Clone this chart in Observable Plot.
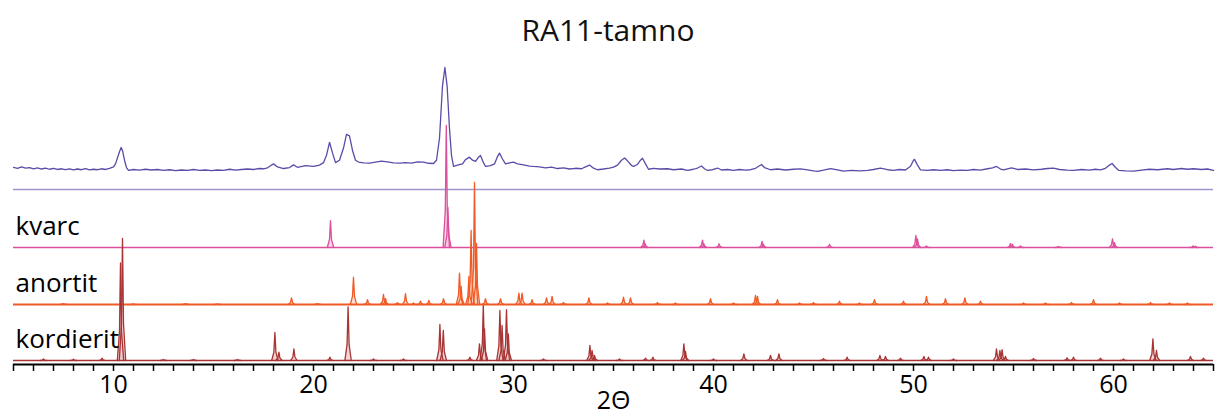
<!DOCTYPE html>
<html><head><meta charset="utf-8">
<script src="https://cdn.jsdelivr.net/npm/d3@7"></script>
<script src="https://cdn.jsdelivr.net/npm/@observablehq/plot@0.6"></script>
<style>
body{margin:0;background:#fff;font-family:"Open Sans",sans-serif;}
#title{height:60px;line-height:60px;text-align:center;font-size:30px;color:#111;}
</style></head><body>
<div id="title"></div>
<div id="chart"></div>
<script>
const chartTitle = "RA11-tamno";
const xLabel = "2Θ";
const xTickLabels = [10, 20, 30, 40, 50, 60];
const seriesNames = ["kvarc", "anortit", "kordierit"];

// measured sample pattern: [2θ, relative intensity %]
const sample = [
[5.0,18.2],[5.2,17.4],[5.4,18.6],[5.6,17.6],[5.8,18.0],[6.0,17.0],[6.2,17.8],[6.4,16.8],[6.6,17.6],[6.8,16.6],
[7.0,17.4],[7.2,16.4],[7.4,17.0],[7.6,16.2],[7.8,17.0],[8.0,16.0],[8.2,16.8],[8.4,16.2],[8.6,17.2],[8.8,16.0],
[9.0,16.6],[9.2,16.2],[9.4,17.0],[9.6,16.4],[9.8,17.4],[10.0,18.5],[10.1,21],[10.2,26],[10.3,31.0],[10.38,34.5],
[10.45,32],[10.55,24],[10.65,18],[10.75,15.6],[11.0,16.4],[11.3,15.8],[11.6,16.6],[11.9,16.0],[12.2,16.4],[12.5,15.6],
[12.8,16.2],[13.1,15.4],[13.4,16.0],[13.7,15.6],[14.0,16.4],[14.3,15.6],[14.6,16.0],[14.9,15.4],[15.2,16.0],[15.5,15.6],
[15.8,16.6],[16.1,15.8],[16.4,16.4],[16.7,16.8],[17.0,16.4],[17.3,17.2],[17.5,17.0],[17.7,17.8],[17.85,19.5],[18.0,21.0],
[18.2,18.5],[18.5,17.2],[18.8,18.0],[19.0,20.2],[19.2,18.2],[19.6,19.6],[20.0,18.9],[20.3,20.0],[20.5,22],[20.65,28],
[20.8,38.7],[20.95,30],[21.1,22],[21.3,24],[21.5,34],[21.65,45.2],[21.8,44],[21.95,32],[22.1,24],[22.25,22.5],
[22.5,21.8],[22.8,21.6],[23.1,22.4],[23.4,23.2],[23.7,22.6],[24.0,21.9],[24.35,21.6],[24.6,22.0],[24.9,21.6],[25.2,22.6],
[25.5,22.4],[25.75,21.5],[26.0,21.3],[26.15,24],[26.3,42],[26.45,85],[26.57,100],[26.68,85],[26.8,50],[26.9,28],
[27.0,19],[27.2,20],[27.45,21],[27.6,24.5],[27.8,26.5],[27.95,24],[28.1,23],[28.25,26.5],[28.35,27.9],[28.5,22],
[28.6,18.9],[28.85,19.5],[29.05,21],[29.2,27],[29.3,29.8],[29.45,25],[29.6,21],[29.8,21.8],[30.0,22.4],[30.2,21.0],
[30.5,20.2],[30.8,19.2],[31.0,18.9],[31.3,18.6],[31.6,17.8],[31.9,18.4],[32.2,17.2],[32.5,17.8],[32.8,16.8],[33.1,17.4],
[33.4,17.0],[33.6,18.6],[33.8,20],[34.0,17.5],[34.2,16.2],[34.5,16.8],[34.8,17.6],[35.0,18.3],[35.2,20],[35.4,24],
[35.55,25.8],[35.7,23.5],[35.9,19.7],[36.0,18.9],[36.2,20.5],[36.35,24],[36.45,25.6],[36.6,21],[36.75,16.6],[37.0,17.4],
[37.3,16.8],[37.7,17.0],[38.0,16.2],[38.4,16.8],[38.7,15.6],[39.0,16.6],[39.2,17.6],[39.4,19.3],[39.55,17],[39.7,15.6],
[39.95,16.2],[40.2,17.6],[40.4,16.0],[40.7,16.4],[41.0,15.6],[41.3,16.4],[41.6,15.8],[41.85,16.2],[42.1,17.4],[42.3,19.5],
[42.4,20.5],[42.55,18],[42.85,16.2],[43.2,16.8],[43.6,16.0],[44.0,16.6],[44.35,16.9],[44.7,16.0],[45.0,15.2],[45.2,14.8],
[45.5,15.8],[45.85,17.2],[46.2,16.0],[46.5,15.0],[46.9,15.6],[47.3,15.2],[47.7,15.6],[48.0,16.4],[48.35,17.6],[48.7,16.2],
[49.0,15.6],[49.3,16.4],[49.6,16.0],[49.85,19],[50.0,24],[50.05,24.7],[50.2,20],[50.35,16.1],[50.7,15.6],[51.0,16.2],
[51.35,15.6],[51.7,16.2],[52.0,15.4],[52.35,15.8],[52.7,15.6],[53.0,16.4],[53.35,15.8],[53.7,17.0],[53.95,17.8],[54.15,18.9],
[54.35,16.8],[54.5,16.1],[54.7,17.0],[54.9,17.8],[55.2,16.4],[55.6,16.8],[56.0,16.1],[56.4,16.6],[56.7,17.2],[57.0,17.5],
[57.3,16.4],[57.7,15.8],[58.0,15.6],[58.4,16.4],[58.8,15.8],[59.1,16.6],[59.35,16.1],[59.6,17.4],[59.8,20],[59.93,21.3],
[60.1,18],[60.27,15.6],[60.6,15.2],[61.0,15.0],[61.4,15.8],[61.8,16.6],[62.2,16.2],[62.7,17.0],[63.0,16.4],[63.4,17.2],
[63.7,16.6],[64.0,17.0],[64.4,16.4],[64.7,16.8],[65.0,15.6]
];

// reference patterns: [2θ, relative intensity %]
const kvarcPeaks = [
[20.85,22],[26.64,100],[26.72,33],[36.52,6],[36.58,3],[39.45,6],[39.52,3],[40.28,3],[42.43,5],[42.5,2.5],
[45.8,2.5],[50.12,10],[50.2,7],[50.65,1.2],[54.85,3.3],[54.95,2.5],[55.35,1.2],[57.25,0.8],[59.95,7],[60.05,4],
[63.98,1.2],[64.1,1]
];
const anortitPeaks = [
[7.5,0.8],[11.0,0.6],[13.6,0.8],[15.2,0.6],[18.9,5.5],[20.2,0.8],[22.0,22.4],[22.7,3.9],[23.5,8.2],[23.6,5],
[24.2,1.5],[24.6,8.8],[25.0,1.2],[25.35,2.7],[25.77,3.3],[26.5,4.7],[27.3,25.7],[27.38,15],[27.77,23],[27.88,60.7],
[28.05,100],[28.15,50],[28.6,4.7],[29.35,4.7],[30.27,9.3],[30.43,9.3],[30.93,3.9],[31.65,5.5],[31.93,6.6],[32.5,1.6],
[33.77,5.5],[34.7,1.2],[35.5,6],[35.85,5.5],[37.2,1.6],[38.1,1.2],[39.85,4.7],[41.0,1.2],[42.1,7.4],[42.2,6.6],
[43.2,3.9],[44.3,1.2],[45.0,1.6],[46.3,2.7],[47.3,1.2],[48.05,3.9],[49.5,2.7],[50.65,6.6],[51.6,4.7],[52.57,5.5],
[53.35,2.7],[55.5,1.2],[56.6,1.2],[57.9,1.6],[59.0,3.9],[60.3,1.2],[61.85,1.6],[62.8,1.2],[63.7,1.2]
];
const kordieritPeaks = [
[6.5,1.2],[8.0,1.0],[9.43,1.9],[10.35,80],[10.45,100],[12.5,0.8],[14.0,0.8],[16.2,0.8],[18.07,23],[18.27,6.8],
[19.02,9.6],[20.82,2.7],[21.73,44],[23.0,1.2],[24.5,1.2],[26.32,29.5],[26.49,24.6],[27.82,2.7],[28.3,13.7],[28.49,45],
[28.55,26],[29.32,41],[29.43,28.7],[29.65,41.6],[29.74,21.9],[31.5,1.2],[33.82,12.3],[33.93,8.2],[34.05,4.1],[35.3,1.2],
[36.6,1.9],[36.97,2.7],[38.52,13.7],[38.6,7.4],[40.0,1.2],[41.52,5.5],[42.85,4.1],[43.27,5.5],[45.5,1.6],[46.68,2.7],
[48.32,4.1],[48.6,3.3],[49.35,1.9],[50.52,3.3],[50.75,2.7],[52.0,1.2],[54.15,9.6],[54.32,8.2],[54.43,8.8],[54.6,3.3],
[56.0,1.6],[57.68,2.2],[58.0,2.7],[59.35,1.9],[60.5,1.2],[61.97,17.8],[62.15,8.2],[63.85,3.3],[64.5,1.9]
];

// ---- layout / style ----
const k = 1.22;                      // px per % intensity
const sampleZero = 175;
const offsets = {kvarc: 117, anortit: 60, kordierit: 4};
const colors = {sample: "#5b4ba8", sep: "#a393cc", kvarc: "#dc4f9c", anortit: "#f05a26", kordierit: "#a83434"};
const fills = {kvarc: "#f7cde3", anortit: "#fdd7c2", kordierit: "#efcaca"};
const widths = {kvarc: 1.3, anortit: 2.0, kordierit: 1.6};
const profile = [[-0.16, 0], [-0.05, 0.3], [0, 1], [0.05, 0.3], [0.16, 0]];

document.getElementById("title").textContent = chartTitle;

const peaks = {kvarc: kvarcPeaks, anortit: anortitPeaks, kordierit: kordieritPeaks};
function peakRows(name) {
  const off = offsets[name];
  return peaks[name].flatMap(([pos, inten], i) =>
    profile.map(([dx, f]) => ({id: name + i, x: pos + dx, y0: off, y: off + inten * k * f})));
}
const sampleRows = sample.map(([x, v]) => ({x, y: sampleZero + v * k}));

const refMarks = seriesNames.flatMap(name => {
  const rows = peakRows(name);
  return [
    Plot.areaY(rows, {x: "x", y1: "y0", y2: "y", z: "id", fill: fills[name], fillOpacity: 0.8}),
    Plot.ruleY([offsets[name]], {stroke: colors[name], strokeWidth: widths[name]}),
    Plot.line(rows, {x: "x", y: "y", z: "id", stroke: colors[name], strokeWidth: 1.3})
  ];
});

const chart = Plot.plot({
  width: 1216, height: 356,
  marginTop: 0, marginBottom: 52, marginLeft: 13, marginRight: 3,
  x: {domain: [5, 65]},
  y: {domain: [0, 304], axis: null},
  style: {fontFamily: "Open Sans", fontSize: "24px", color: "#000", background: "#fff", overflow: "visible"},
  marks: [
    Plot.ruleY([sampleZero], {stroke: colors.sep, strokeWidth: 1.5}),
    Plot.line(sampleRows, {x: "x", y: "y", stroke: colors.sample, strokeWidth: 1.3}),
    ...refMarks,
    Plot.text(seriesNames, {y: d => offsets[d] + 13, text: d => d, frameAnchor: "left", textAnchor: "start", lineAnchor: "bottom", dx: 2, fontSize: 26, fill: "#000"}),
    Plot.axisX({ticks: d3.range(5, 66), tickSize: 7, tickPadding: 4, strokeWidth: 1.5,
      tickFormat: d => xTickLabels.includes(d) ? String(d) : "", fontSize: 25,
      label: xLabel, labelAnchor: "center", labelArrow: "none", labelOffset: 44}),
    Plot.ruleY([0], {stroke: "#000", strokeWidth: 1.8})
  ]
});
document.getElementById("chart").appendChild(chart);
</script>
</body></html>
